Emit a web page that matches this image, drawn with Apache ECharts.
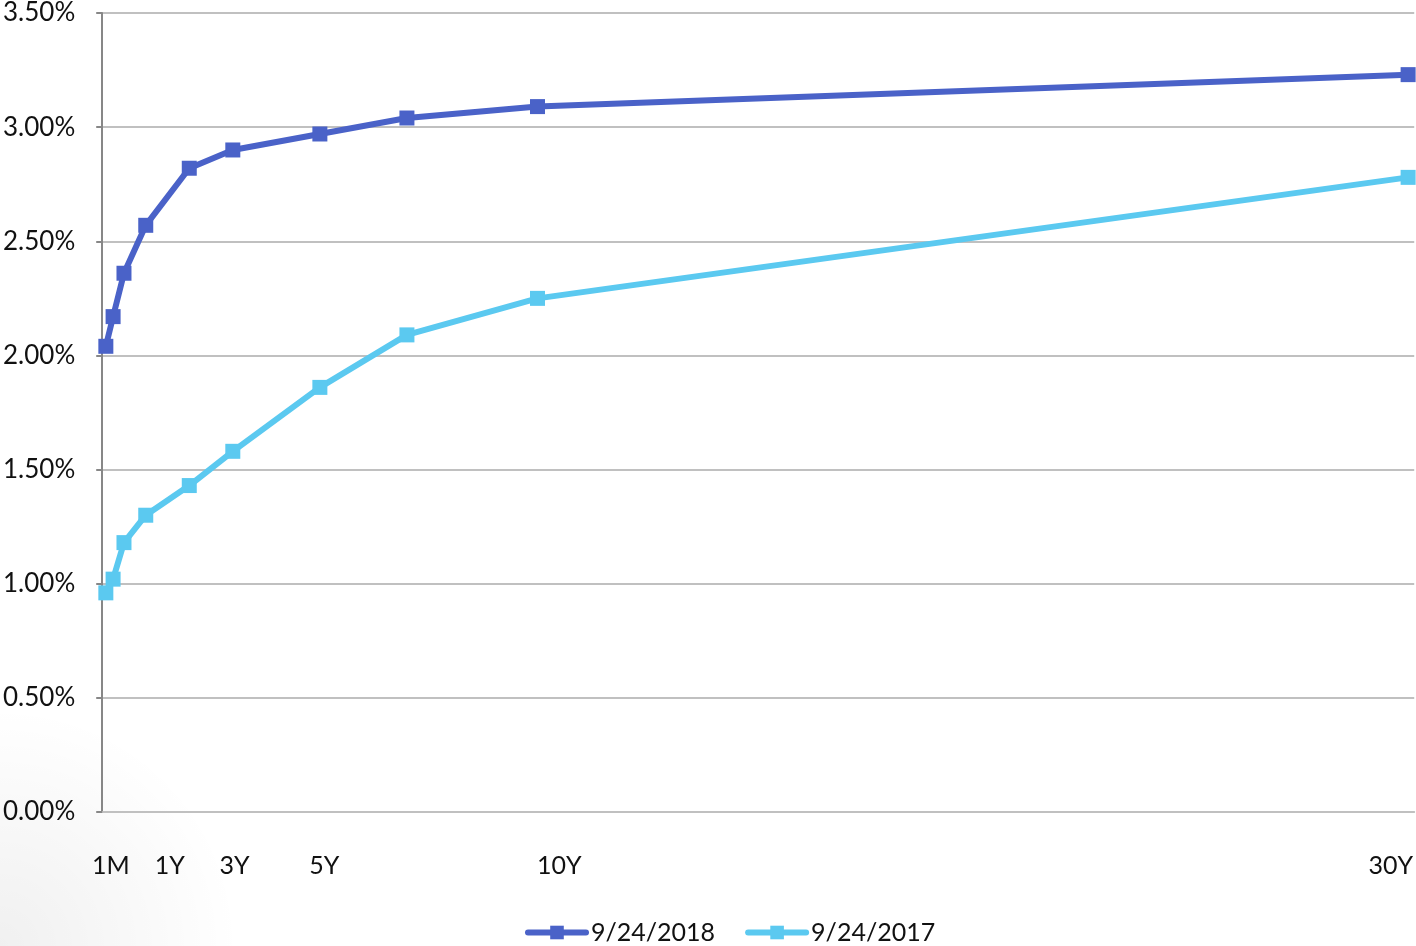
<!DOCTYPE html>
<html>
<head>
<meta charset="utf-8">
<style>
  html, body { margin: 0; padding: 0; background: #ffffff; }
  #chart { width: 1416px; height: 946px; }
</style>
<script src="https://cdn.jsdelivr.net/npm/echarts@6/dist/echarts.min.js"></script>
</head>
<body>
<div id="chart"></div>
<script>
// Treasury maturities in years (1M, 3M, 6M, 1Y, 2Y, 3Y, 5Y, 7Y, 10Y, 30Y)
const maturities = [1 / 12, 0.25, 0.5, 1, 2, 3, 5, 7, 10, 30];

// Yields in percent
const yields2018 = [2.04, 2.17, 2.36, 2.57, 2.82, 2.90, 2.97, 3.04, 3.09, 3.23];
const yields2017 = [0.96, 1.02, 1.18, 1.30, 1.43, 1.58, 1.86, 2.09, 2.25, 2.78];

const seriesNames = ['9/24/2018', '9/24/2017'];
const seriesColors = ['#4A62C8', '#5BC9F0'];

// Maturity labels shown under the axis and where they sit (in years)
const tickValues = [0.2, 1.55, 3.04, 5.1, 10.5, 29.6];
const tickLabels = ['1M', '1Y', '3Y', '5Y', '10Y', '30Y'];

const FONT = 'Lato, "Open Sans", sans-serif';

const pairs = (xs, ys) => xs.map((x, i) => [x, ys[i]]);

const chart = echarts.init(document.getElementById('chart'), null, { renderer: 'canvas' });

chart.setOption({
  backgroundColor: '#ffffff',
  animation: false,
  graphic: [{
    type: 'rect',
    left: 0,
    bottom: 0,
    z: -10,
    silent: true,
    shape: { width: 240, height: 240 },
    style: {
      fill: {
        type: 'radial', x: 0, y: 1, r: 1,
        colorStops: [
          { offset: 0, color: 'rgba(0,0,0,0.06)' },
          { offset: 1, color: 'rgba(0,0,0,0)' }
        ]
      }
    }
  }],
  grid: { left: 102, right: 0, top: 13, bottom: 134, containLabel: false },
  legend: {
    data: seriesNames,
    top: 915,
    left: 520,
    itemWidth: 58,
    itemHeight: 17,
    itemGap: 30,
    lineStyle: { width: 6, cap: 'round' },
    textStyle: { fontFamily: FONT, fontSize: 25, color: '#111' }
  },
  xAxis: {
    type: 'value',
    min: 0,
    max: 30.14,
    axisLine: { show: true, lineStyle: { color: '#C0C0C0', width: 2 } },
    axisTick: { show: false },
    splitLine: { show: false },
    axisLabel: {
      customValues: tickValues,
      formatter: (v) => {
        const i = tickValues.indexOf(v);
        return i >= 0 ? tickLabels[i] : '';
      },
      margin: 41,
      fontFamily: FONT,
      fontSize: 25,
      color: '#111',
      showMinLabel: true,
      showMaxLabel: true
    }
  },
  yAxis: {
    type: 'value',
    min: 0,
    max: 3.5,
    interval: 0.5,
    axisLine: { show: true, lineStyle: { color: '#878787', width: 2 } },
    axisTick: { show: true, length: 6, lineStyle: { color: '#878787', width: 2 } },
    splitLine: { show: true, lineStyle: { color: '#C0C0C0', width: 2 } },
    axisLabel: {
      formatter: (v) => v.toFixed(2) + '%',
      margin: 27,
      fontFamily: FONT,
      fontSize: 26,
      color: '#111'
    }
  },
  series: [
    {
      name: seriesNames[0],
      type: 'line',
      data: pairs(maturities, yields2018),
      symbol: 'rect',
      symbolSize: 15,
      color: seriesColors[0],
      lineStyle: { width: 6, color: seriesColors[0] },
      itemStyle: { color: seriesColors[0] },
      clip: false
    },
    {
      name: seriesNames[1],
      type: 'line',
      data: pairs(maturities, yields2017),
      symbol: 'rect',
      symbolSize: 15,
      color: seriesColors[1],
      lineStyle: { width: 6, color: seriesColors[1] },
      itemStyle: { color: seriesColors[1] },
      clip: false
    }
  ]
});
</script>
</body>
</html>
